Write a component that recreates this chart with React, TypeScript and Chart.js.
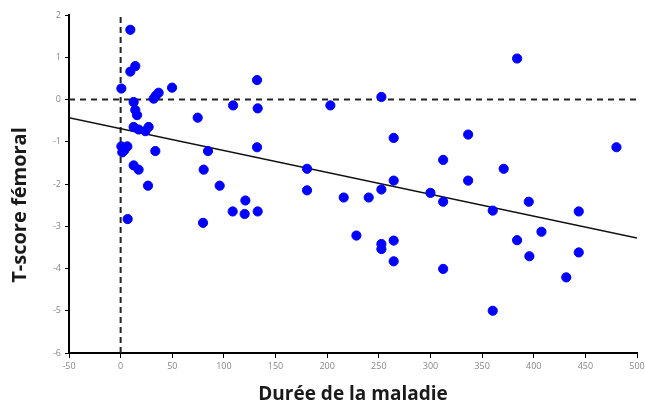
import React, { useEffect, useRef } from "react";
import { Chart, registerables } from "chart.js";

Chart.register(...registerables);

const xTitle = "Durée de la maladie";
const yTitle = "T-score fémoral";

const durations = [
  9.4, 9.4, 14.2, 0.7, 12.6, 14.2, 15.9, 32, 36.8, 34, 49.8, 74.6, 108.9, 132.1, 132.7, 203.1,
  12.6, 17.4, 27.1, 23.9, 0.7, 3.6, 1.6, 6.5, 33.6, 84.6, 132.1, 12.6, 17.4, 80.4, 26.5, 95.9,
  180.5, 180.5, 120.8, 6.8, 79.8, 108.5, 120.1, 132.7, 383.9, 252.5, 264.4, 336.5, 480.1, 312.3,
  336.5, 370.9, 264.4, 252.5, 216, 240.2, 300, 312.3, 360.3, 395.2, 443.6, 228.3, 252.5, 252.5,
  264.4, 264.4, 312.3, 360.3, 383.9, 407.5, 395.8, 431.5, 443.6,
];
const tscores = [
  1.65, 0.66, 0.79, 0.26, -0.06, -0.25, -0.37, 0.02, 0.16, 0.09, 0.28, -0.43, -0.14, 0.46, -0.21, -0.14,
  -0.65, -0.71, -0.65, -0.75, -1.11, -1.2, -1.25, -1.11, -1.22, -1.22, -1.13, -1.56, -1.66, -1.66, -2.04, -2.04,
  -1.64, -2.15, -2.39, -2.83, -2.92, -2.65, -2.71, -2.65, 0.97, 0.06, -0.91, -0.83, -1.13, -1.43,
  -1.92, -1.64, -1.92, -2.13, -2.32, -2.32, -2.21, -2.42, -2.63, -2.42, -2.65, -3.22, -3.42, -3.54,
  -3.34, -3.83, -4.01, -5.0, -3.33, -3.13, -3.71, -4.21, -3.62,
];

const trendX = [-50, 500];
const trendY = [-0.43, -3.28];
const hRefX = [-50, 500];
const hRefY = [0, 0];
const vRefX = [0, 0];
const vRefY = [-6, 2];

const xMin = -50, xMax = 500, xStep = 50;
const yMin = -6, yMax = 2, yStep = 1;

const titlesPlugin = {
  id: "axisTitles",
  afterDraw(chart: any) {
    const ctx = chart.ctx;
    ctx.save();
    ctx.fillStyle = "#1a1a1a";
    ctx.textAlign = "center";
    ctx.textBaseline = "middle";
    ctx.font = "bold 19px 'Open Sans'";
    ctx.fillText(xTitle, 353, 395);
    ctx.font = "bold 20px 'Open Sans'";
    ctx.translate(20, 205);
    ctx.rotate(-Math.PI / 2);
    ctx.fillText(yTitle, 0, 0);
    ctx.restore();
  },
};

export default function App() {
  const ref = useRef<HTMLCanvasElement | null>(null);
  useEffect(() => {
    document.body.style.margin = "0";
    const canvas = ref.current!;
    const pts = durations.map((x, i) => ({ x, y: tscores[i] }));
    const chart = new Chart(canvas, {
      type: "scatter",
      data: {
        datasets: [
          {
            type: "scatter",
            data: pts,
            backgroundColor: "#0000ff",
            borderColor: "#0000ff",
            pointRadius: 4.6,
            pointStyle: "circle",
            order: 0,
          } as any,
          {
            type: "line",
            data: trendX.map((x, i) => ({ x, y: trendY[i] })),
            borderColor: "#111",
            borderWidth: 1.6,
            pointRadius: 0,
            order: 1,
          },
          {
            type: "line",
            data: hRefX.map((x, i) => ({ x, y: hRefY[i] })),
            borderColor: "#222",
            borderWidth: 2,
            borderDash: [6, 5],
            pointRadius: 0,
            order: 2,
          },
          {
            type: "line",
            data: vRefX.map((x, i) => ({ x, y: vRefY[i] })),
            borderColor: "#222",
            borderWidth: 2,
            borderDash: [6, 4],
            pointRadius: 0,
            order: 2,
          },
        ],
      },
      options: {
        responsive: false,
        animation: false,
        devicePixelRatio: 1,
        layout: { padding: { top: 15, right: 8, left: 0, bottom: 0 } },
        plugins: { legend: { display: false }, tooltip: { enabled: false } },
        scales: {
          x: {
            type: "linear",
            min: xMin,
            max: xMax,
            afterFit: (s: any) => { s.height = 51; s.paddingRight = 0; s.paddingLeft = 0; },
            ticks: { stepSize: xStep, color: "#888", font: { size: 9, family: "'Open Sans'" }, padding: 3 },
            grid: { drawOnChartArea: false, drawTicks: true, tickLength: 5, tickColor: "#000", tickWidth: 1 },
            border: { color: "#000", width: 2 },
          },
          y: {
            type: "linear",
            min: yMin,
            max: yMax,
            afterFit: (s: any) => { s.width = 69; s.paddingTop = 0; s.paddingBottom = 0; },
            ticks: { stepSize: yStep, color: "#888", font: { size: 9, family: "'Open Sans'" }, padding: 4 },
            grid: { drawOnChartArea: false, drawTicks: true, tickLength: 4, tickColor: "#000", tickWidth: 1 },
            border: { color: "#000", width: 2 },
          },
        },
      },
      plugins: [titlesPlugin],
    });
    return () => chart.destroy();
  }, []);
  return (
    <div style={{ width: 645, height: 404, background: "#fff" }}>
      <canvas ref={ref} width={645} height={404} />
    </div>
  );
}
